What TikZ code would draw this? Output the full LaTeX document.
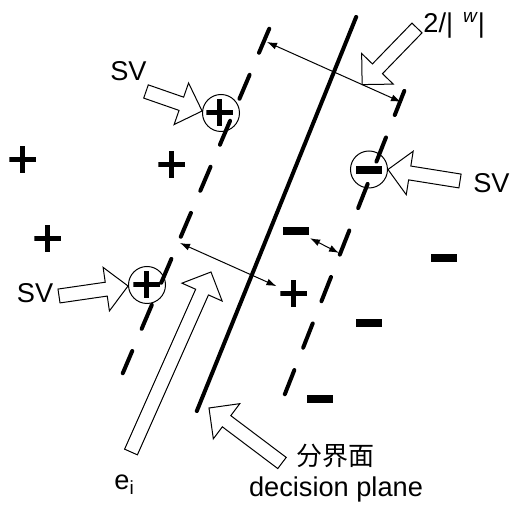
\documentclass[tikz,border=0pt]{standalone}
\usepackage{fontspec}
\setmainfont{Liberation Sans}
\newfontfamily\cjk{Noto Sans CJK SC}
\usetikzlibrary{arrows.meta,calc}

\newcommand{\fatarrow}[2]{%
  \coordinate (#1-h) at ($(#2)!11pt!(#1)$);
  \draw[fat] ($(#1)!3.5pt!90:(#2)$) -- ($(#1-h)!3.5pt!90:(#2)$) -- ($(#1-h)!11pt!90:(#2)$)
    -- (#2) -- ($(#1-h)!11pt!-90:(#2)$) -- ($(#1-h)!3.5pt!-90:(#2)$) -- ($(#1)!3.5pt!-90:(#2)$) -- cycle;}

\begin{document}
\begin{tikzpicture}[x=0.5pt, y=-0.5pt,
  txt/.style={font=\fontsize{13.6}{16}\selectfont, inner sep=0},
  plane/.style={line width=2pt, line cap=round},
  margin/.style={line width=2pt, line cap=round, dash pattern=on 13pt off 12pt},
  plus/.style={inner sep=0, minimum size=13.5pt, path picture={\draw[line width=2.5pt]
    (path picture bounding box.north) -- (path picture bounding box.south)
    (path picture bounding box.west) -- (path picture bounding box.east);}},
  minus/.style={fill, inner sep=0, minimum width=13pt, minimum height=4.25pt},
  ring/.style={circle, draw, line width=0.5pt, minimum size=18.5pt, inner sep=0},
  gaparrow/.style={line width=0.5pt, arrows={Latex[length=5pt,width=3.5pt]-Latex[length=5pt,width=3.5pt]}},
  fat/.style={fill=white, draw, line width=0.5pt, line join=miter}
]
\useasboundingbox (0,0) rectangle (511,507);
\draw[margin] (269.2,28.8) -- (122.8,373.2);
\draw[margin] (404.3,90.9) -- (283.7,397.1);
\draw[plane] (356.2,16.9) -- (196.8,411.1);
\node[ring] (ring1) at (221,113) {};
\node[ring] (ring2) at (147,285) {};
\node[ring] (ring3) at (369,169.5) {};
\node[plus] (pl1) at (23,160) {};
\node[plus] (pl2) at (172,165) {};
\node[plus] (pl3) at (48,239) {};
\node[plus] (pl4) at (220,113) {};
\node[plus] (pl5) at (147,285) {};
\node[plus] (pl6) at (294,294) {};
\node[minus] (mi1) at (369,170) {};
\node[minus] (mi2) at (296,231) {};
\node[minus] (mi3) at (444,258) {};
\node[minus] (mi4) at (369,323) {};
\node[minus] (mi5) at (320,399) {};
\node[txt, anchor=base] (svtop) at (128.5,81) {SV};
\node[txt, anchor=base] (svleft) at (35,303) {SV};
\node[txt, anchor=base] (svright) at (491.5,193) {SV};
\node[txt, anchor=base west] (wlab) at (423,33) {2/|\hspace{5pt}\textsuperscript{\itshape w}|};
\node[txt, anchor=base west] (elab) at (114,490) {e\textsubscript{i}};
\node[font=\cjk\fontsize{13}{15}\selectfont, inner sep=0] (cnlab) at (336,456) {分界面};
\node[txt, anchor=base] (enlab) at (336,497) {decision plane};
\coordinate (m1a) at (267,42);
\coordinate (m1b) at (401,102);
\coordinate (m2a) at (180,243);
\coordinate (m3b) at (339,253);
\coordinate (wh) at ($(m1a)!0.71!(m1b)$);
\coordinate (a1) at (146,91.5);
\coordinate (a2) at (59,296);
\coordinate (a3) at (460,181);
\coordinate (a4) at (417,28);
\coordinate (a5) at (131,452);
\coordinate (e5) at (211,272);
\coordinate (a6) at (282,463);
\coordinate (e6) at (209,408);
\draw[gaparrow] (m1a) -- (m1b);
\draw[gaparrow, shorten >=2pt] (m2a) -- (pl6);
\draw[gaparrow, shorten <=2.8pt] (mi2) -- (m3b);
\fatarrow{a1}{ring1.174}
\fatarrow{a2}{ring2.183}
\fatarrow{a3}{ring3.0}
\fatarrow{a4}{wh}
\fatarrow{a5}{e5}
\fatarrow{a6}{e6}
\end{tikzpicture}
\end{document}
